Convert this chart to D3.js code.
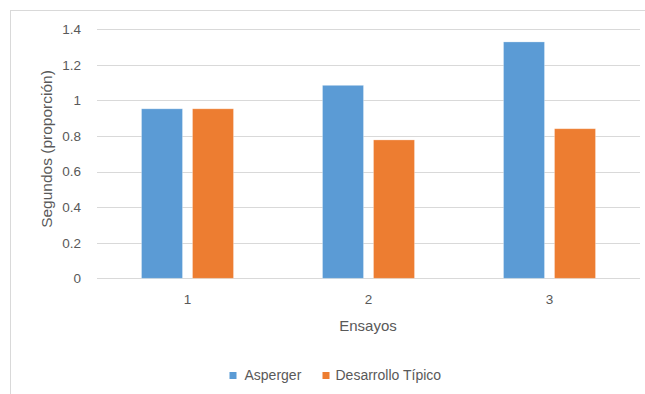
<!DOCTYPE html>
<html>
<head>
<meta charset="utf-8">
<script src="https://cdn.jsdelivr.net/npm/d3@7/dist/d3.min.js"></script>
<style>
  html, body { margin: 0; padding: 0; background: #fff; }
  svg { display: block; font-family: "Liberation Sans", Arial, sans-serif; }
</style>
</head>
<body>
<svg id="chart" width="645" height="394"></svg>
<script>
// Trials and the two groups' mean times (proportion)
const categories = ["1", "2", "3"];
const seriesNames = ["Asperger", "Desarrollo Típico"];
const asperger = [0.953, 1.085, 1.329];
const desarrolloTipico = [0.953, 0.778, 0.841];
const yTicks = [0, 0.2, 0.4, 0.6, 0.8, 1, 1.2, 1.4];
const colors = ["#5b9bd5", "#ed7d31"];

const svg = d3.select("#chart");
const textColor = "#595959";
const gridColor = "#d9d9d9";

// Chart frame
svg.append("rect")
  .attr("x", 10.5).attr("y", 10.5)
  .attr("width", 700).attr("height", 500)
  .attr("fill", "none").attr("stroke", gridColor).attr("stroke-width", 1);

const plot = { left: 97, right: 640, top: 29.3, bottom: 278.3 };

const x0 = d3.scaleBand().domain(categories).range([plot.left, plot.right]).paddingInner(0).paddingOuter(0);
const y = d3.scaleLinear().domain([0, 1.4]).range([plot.bottom, plot.top]);

// Horizontal gridlines
svg.append("g").selectAll("line").data(yTicks).join("line")
  .attr("x1", plot.left).attr("x2", plot.right)
  .attr("y1", d => Math.round(y(d)) + 0.5).attr("y2", d => Math.round(y(d)) + 0.5)
  .attr("stroke", gridColor).attr("stroke-width", 1);

// Y axis tick labels
const yAxis = d3.axisLeft(y).tickValues(yTicks).tickSize(0).tickPadding(0)
  .tickFormat(d => String(d));
svg.append("g")
  .attr("transform", `translate(${81},0)`)
  .call(yAxis)
  .call(g => g.select(".domain").remove())
  .call(g => g.selectAll("text")
    .attr("fill", textColor).style("font-size", "13.5px")
    .style("font-family", "'Liberation Sans', Arial, sans-serif"));

// X axis category labels
const xAxis = d3.axisBottom(x0).tickSize(0).tickPadding(0);
svg.append("g")
  .attr("transform", `translate(0,${294})`)
  .call(xAxis)
  .call(g => g.select(".domain").remove())
  .call(g => g.selectAll("text")
    .attr("fill", textColor).style("font-size", "13.5px")
    .style("font-family", "'Liberation Sans', Arial, sans-serif"));

// Bars: two per trial, 41px wide with a 10px gap
const barW = 41, gap = 10;
const series = [asperger, desarrolloTipico];
const groups = svg.append("g");
series.forEach((vals, si) => {
  groups.append("g").selectAll("rect").data(vals).join("rect")
    .attr("x", (d, i) => {
      const c = x0(categories[i]) + x0.bandwidth() / 2;
      return si === 0 ? c - gap / 2 - barW : c + gap / 2;
    })
    .attr("y", d => y(d))
    .attr("width", barW)
    .attr("height", d => y(0) - y(d))
    .attr("fill", colors[si])
    .attr("stroke", "rgba(255,255,255,0.35)")
    .attr("stroke-width", 0.8);
});

// Axis titles
svg.append("text")
  .attr("transform", `translate(52,149) rotate(-90)`)
  .attr("text-anchor", "middle")
  .attr("fill", textColor)
  .style("font-size", "15.5px")
  .text("Segundos (proporción)");

svg.append("text")
  .attr("x", 368).attr("y", 331)
  .attr("text-anchor", "middle")
  .attr("fill", textColor)
  .style("font-size", "15px")
  .text("Ensayos");

// Legend
const legendItems = [
  { name: seriesNames[0], color: colors[0], sq: 229.5, tx: 244.5 },
  { name: seriesNames[1], color: colors[1], sq: 322.5, tx: 335.5 }
];
const legend = svg.append("g");
legendItems.forEach(it => {
  legend.append("rect")
    .attr("x", it.sq).attr("y", 372).attr("width", 7).attr("height", 7)
    .attr("fill", it.color);
  legend.append("text")
    .attr("x", it.tx).attr("y", 380)
    .attr("fill", textColor)
    .style("font-size", "14px")
    .text(it.name);
});
</script>
</body>
</html>
